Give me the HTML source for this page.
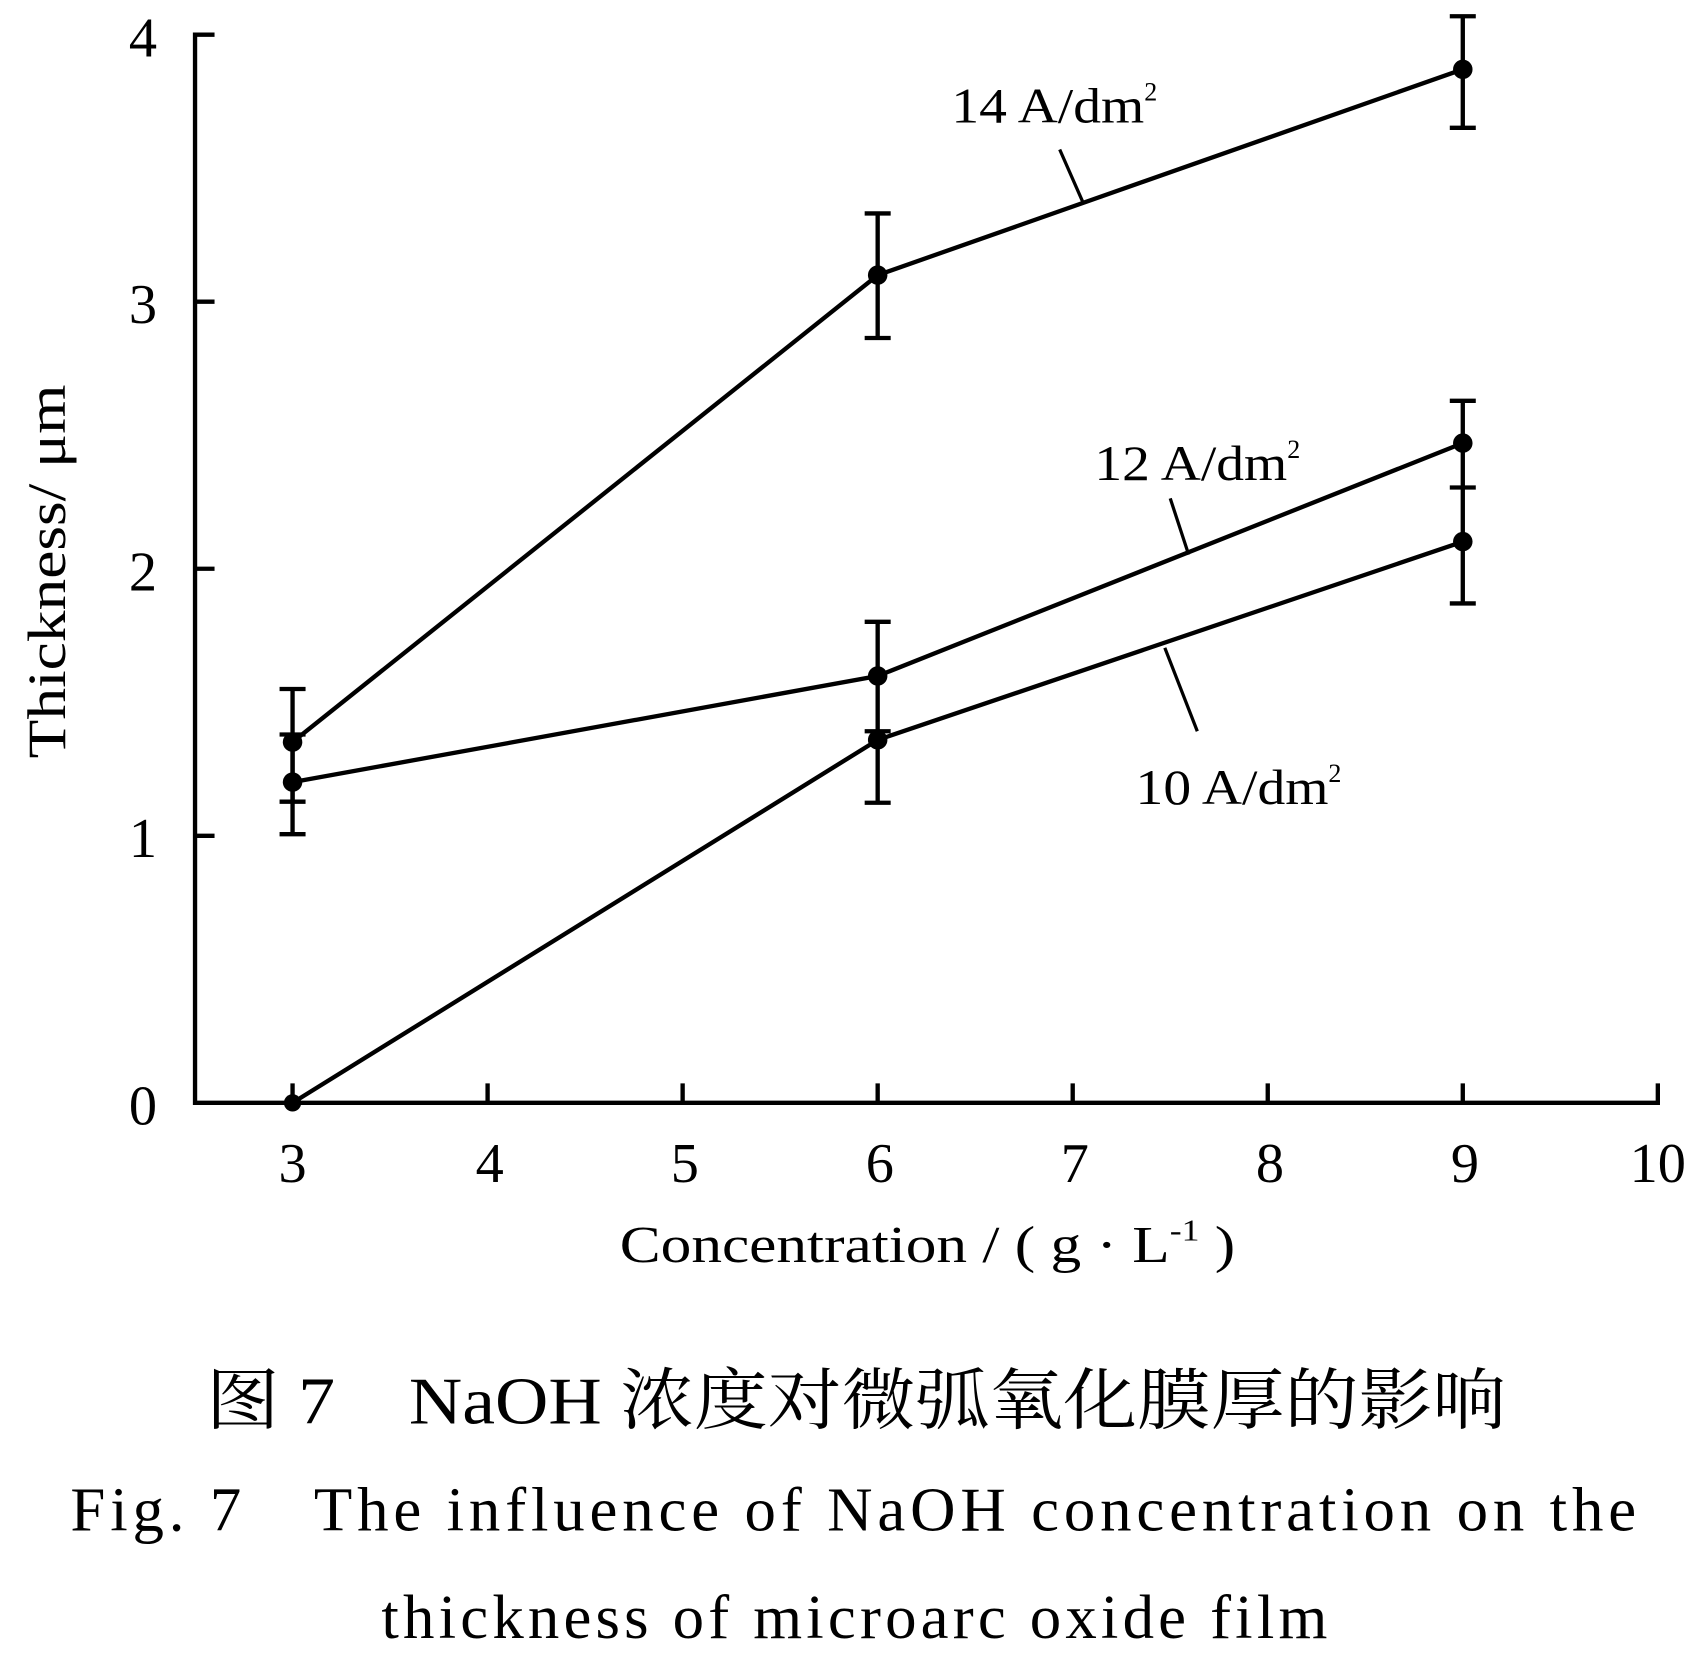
<!DOCTYPE html>
<html><head><meta charset="utf-8"><style>
html,body{margin:0;padding:0;background:#fff;}
svg{display:block;}
text{font-family:"Liberation Serif","Noto Serif CJK SC",serif;fill:#000;}
</style></head><body>
<svg width="1699" height="1664" viewBox="0 0 1568 1536" preserveAspectRatio="none" xmlns="http://www.w3.org/2000/svg">
<g stroke="#000" stroke-width="4" fill="none">
<path d="M180 30 V1018 H1532"/>
<path d="M180 32 H198 M180 278.5 H198 M180 525 H198 M180 771.5 H198"/>
<path d="M450 1018 V1000 M630 1018 V1000 M810 1018 V1000 M990 1018 V1000 M1170 1018 V1000 M1350 1018 V1000 M1530 1018 V1000 M270 1018 V1000"/>
<polyline points="270,685 810,254 1350,64"/>
<polyline points="270,722 810,624 1350,409"/>
<polyline points="270,1018 810,683 1350,500"/>
<path d="M270 636 V740 M258 636 H282 M258 740 H282"/>
<path d="M270 678 V770 M258 678 H282 M258 770 H282"/>
<path d="M810 197 V312 M798 197 H822 M798 312 H822"/>
<path d="M810 574 V675 M798 574 H822 M798 675 H822"/>
<path d="M810 675 V741 M798 741 H822"/>
<path d="M1350 15 V118 M1338 15 H1362 M1338 118 H1362"/>
<path d="M1350 370 V450 M1338 370 H1362 M1338 450 H1362"/>
<path d="M1350 450 V557 M1338 557 H1362"/>
<path d="M978 138 L1000 188 M1080 460 L1097 512 M1075 598 L1105 675" stroke-width="3"/>
</g>
<g fill="#000">
<circle cx="270" cy="685" r="9"/><circle cx="810" cy="254" r="9"/><circle cx="1350" cy="64" r="9"/>
<circle cx="270" cy="722" r="9"/><circle cx="810" cy="624" r="9"/><circle cx="1350" cy="409" r="9"/>
<circle cx="270" cy="1018" r="8"/><circle cx="810" cy="683" r="9"/><circle cx="1350" cy="500" r="9"/>
</g>
<g font-size="52" text-anchor="end">
<text x="145" y="52">4</text><text x="145" y="298">3</text><text x="145" y="545">2</text><text x="145" y="791">1</text><text x="145" y="1038">0</text>
</g>
<g font-size="52" text-anchor="middle">
<text x="270" y="1091">3</text><text x="452" y="1091">4</text><text x="632" y="1091">5</text><text x="812" y="1091">6</text><text x="992" y="1091">7</text><text x="1172" y="1091">8</text><text x="1352" y="1091">9</text><text x="1530" y="1091">10</text>
</g>
<text x="60" y="700" font-size="50" transform="rotate(-90 60 700)" textLength="345" lengthAdjust="spacingAndGlyphs">Thickness/ μm</text>
<text x="572" y="1165" font-size="48" textLength="568" lengthAdjust="spacingAndGlyphs">Concentration / ( g · L<tspan font-size="28" dy="-20">-1</tspan><tspan dy="20"> )</tspan></text>
<text x="878" y="113" font-size="46"><tspan textLength="178" lengthAdjust="spacingAndGlyphs">14 A/dm</tspan><tspan font-size="24" dy="-20">2</tspan></text>
<text x="1010" y="443" font-size="46"><tspan textLength="178" lengthAdjust="spacingAndGlyphs">12 A/dm</tspan><tspan font-size="24" dy="-20">2</tspan></text>
<text x="1048" y="742" font-size="46"><tspan textLength="178" lengthAdjust="spacingAndGlyphs">10 A/dm</tspan><tspan font-size="24" dy="-20">2</tspan></text>
<text x="190" y="1314" font-size="62" textLength="1200" lengthAdjust="spacingAndGlyphs">图 7　NaOH 浓度对微弧氧化膜厚的影响</text>
<text x="65" y="1413" font-size="58" textLength="1445" lengthAdjust="spacing">Fig. 7　The influence of NaOH concentration on the</text>
<text x="352" y="1512" font-size="58" textLength="873" lengthAdjust="spacing">thickness of microarc oxide film</text>
</svg>
</body></html>
